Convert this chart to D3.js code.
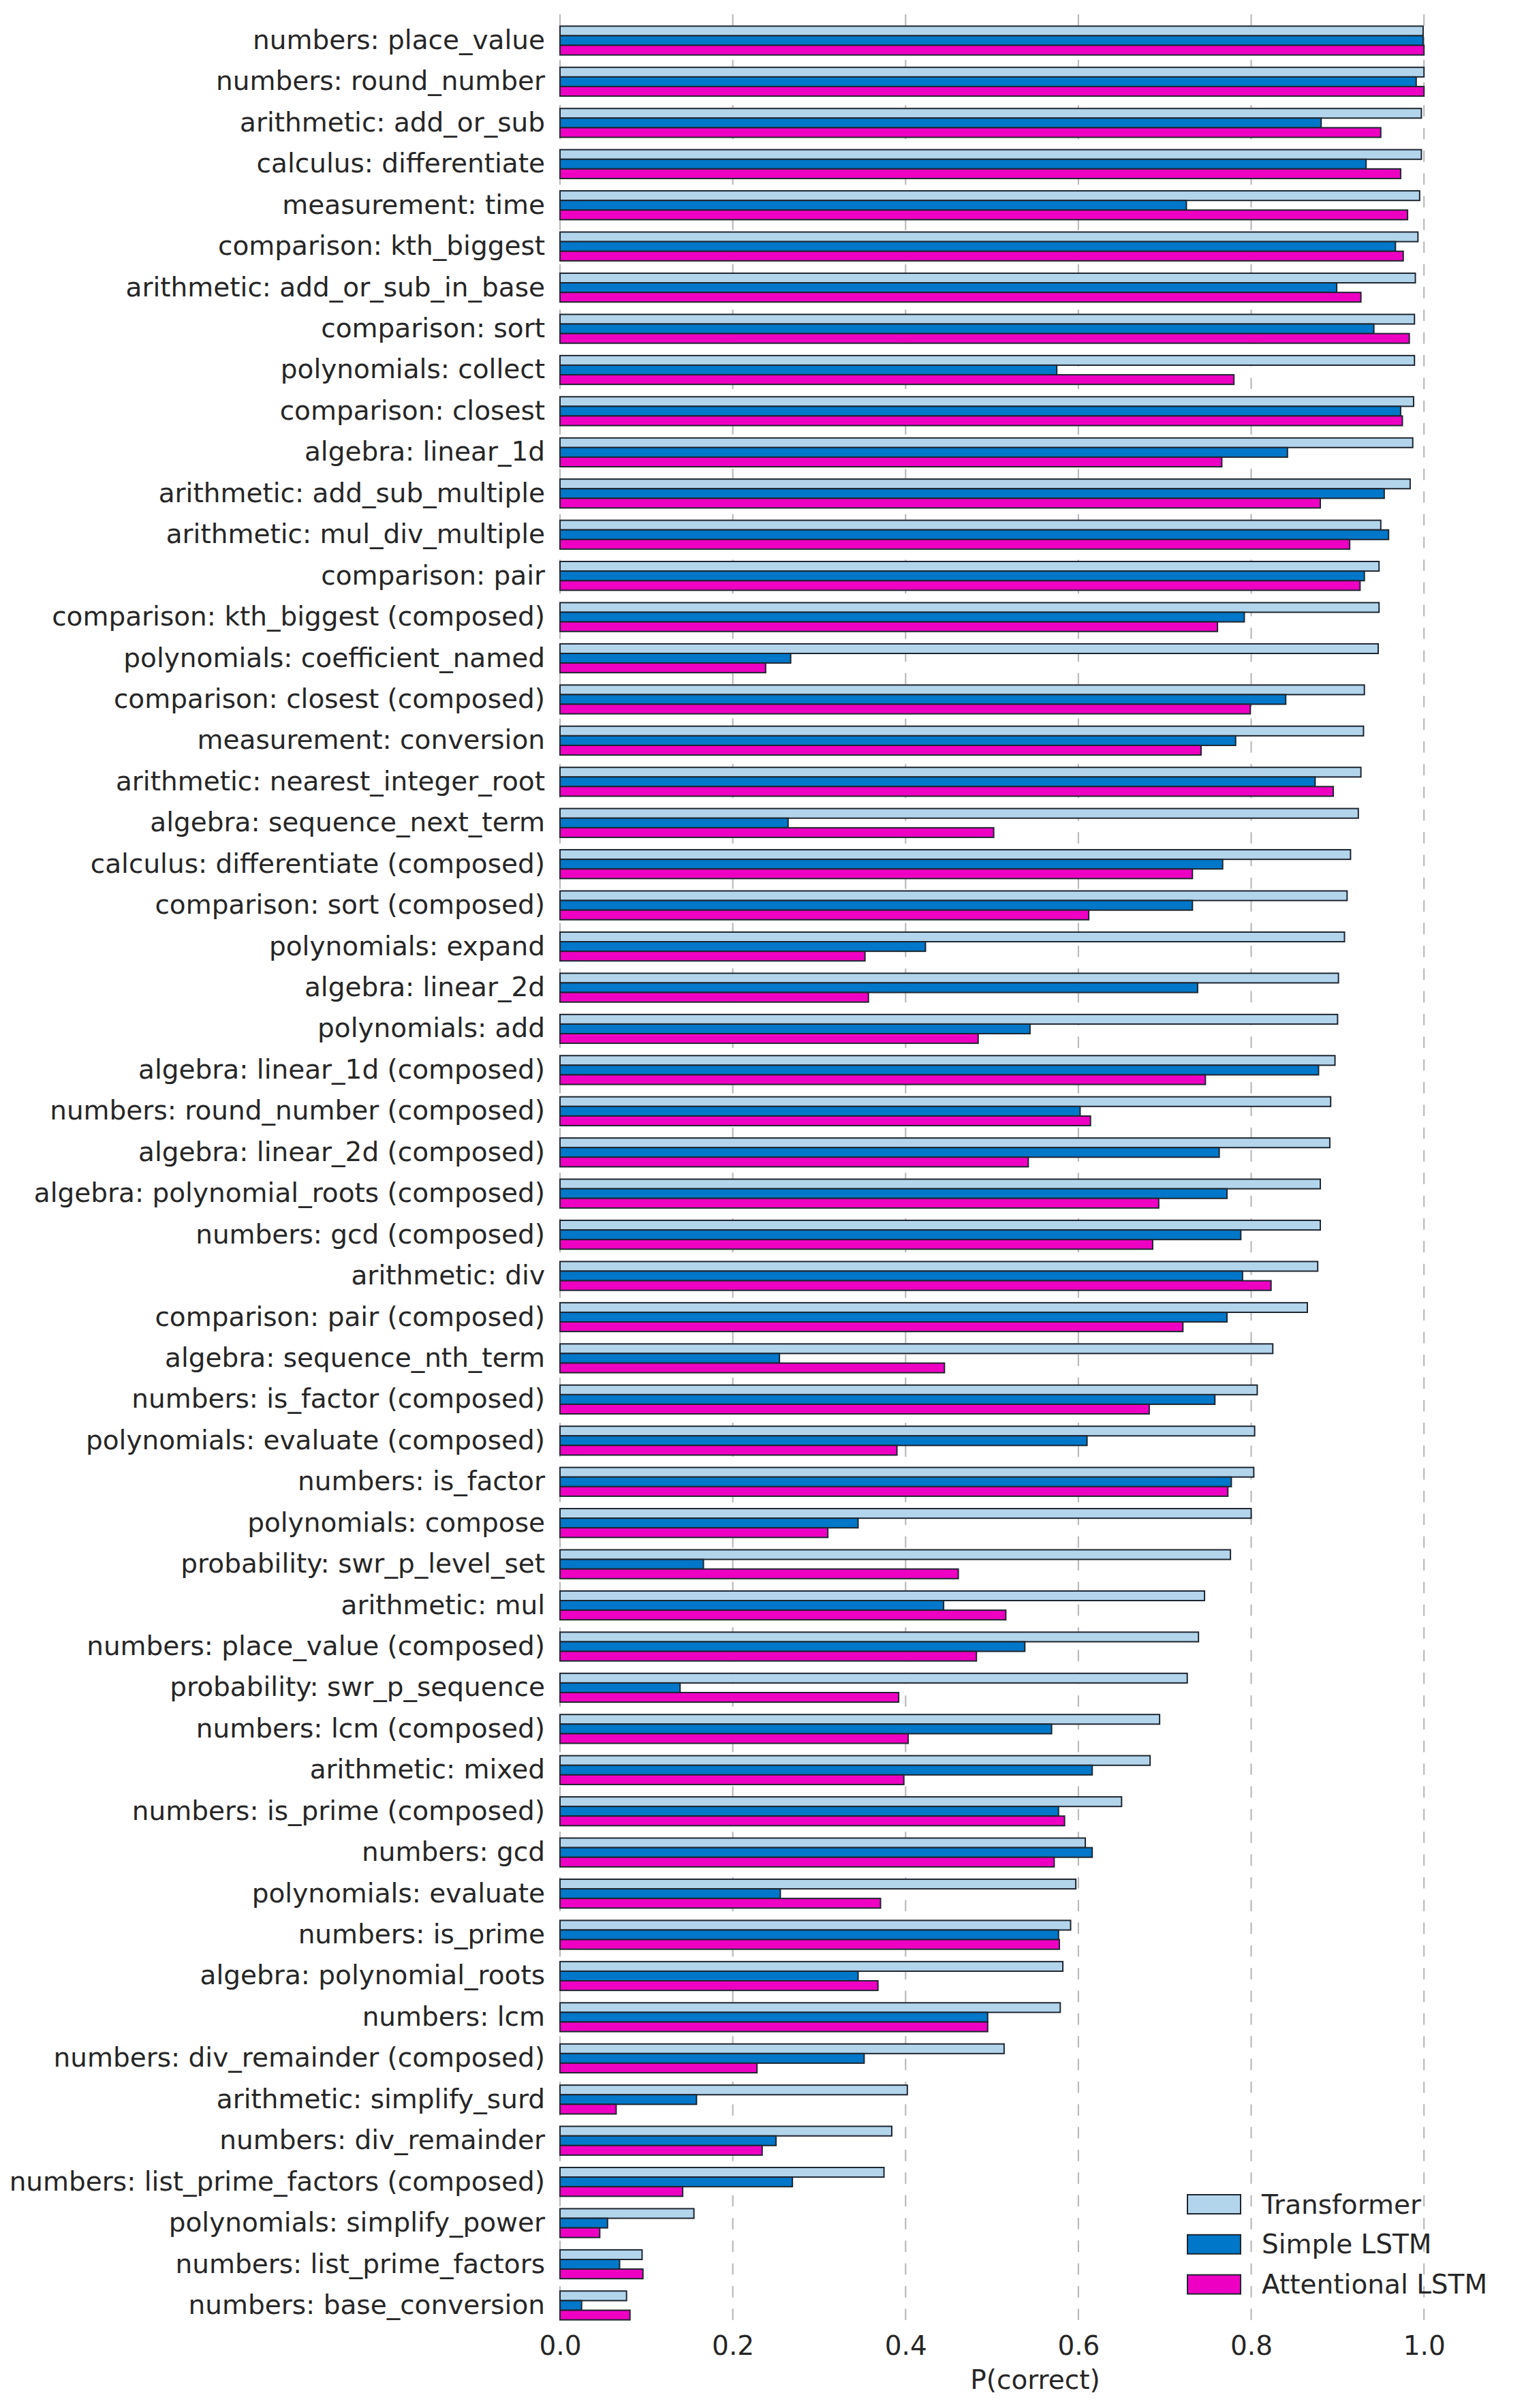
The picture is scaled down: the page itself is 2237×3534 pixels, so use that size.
<!DOCTYPE html>
<html>
<head>
<meta charset="utf-8">
<script src="https://cdn.jsdelivr.net/npm/d3@7"></script>
<style>
  body { margin: 0; background: #fff; }
  text { font-family: "DejaVu Sans", sans-serif; fill: #262626; }
</style>
</head>
<body>
<svg id="chart"></svg>
<script>
// Categories, top to bottom (sorted by Transformer accuracy)
const categories = [
  "numbers: place_value", "numbers: round_number", "arithmetic: add_or_sub",
  "calculus: differentiate", "measurement: time", "comparison: kth_biggest",
  "arithmetic: add_or_sub_in_base", "comparison: sort", "polynomials: collect",
  "comparison: closest", "algebra: linear_1d", "arithmetic: add_sub_multiple",
  "arithmetic: mul_div_multiple", "comparison: pair", "comparison: kth_biggest (composed)",
  "polynomials: coefficient_named", "comparison: closest (composed)", "measurement: conversion",
  "arithmetic: nearest_integer_root", "algebra: sequence_next_term", "calculus: differentiate (composed)",
  "comparison: sort (composed)", "polynomials: expand", "algebra: linear_2d",
  "polynomials: add", "algebra: linear_1d (composed)", "numbers: round_number (composed)",
  "algebra: linear_2d (composed)", "algebra: polynomial_roots (composed)", "numbers: gcd (composed)",
  "arithmetic: div", "comparison: pair (composed)", "algebra: sequence_nth_term",
  "numbers: is_factor (composed)", "polynomials: evaluate (composed)", "numbers: is_factor",
  "polynomials: compose", "probability: swr_p_level_set", "arithmetic: mul",
  "numbers: place_value (composed)", "probability: swr_p_sequence", "numbers: lcm (composed)",
  "arithmetic: mixed", "numbers: is_prime (composed)", "numbers: gcd",
  "polynomials: evaluate", "numbers: is_prime", "algebra: polynomial_roots",
  "numbers: lcm", "numbers: div_remainder (composed)", "arithmetic: simplify_surd",
  "numbers: div_remainder", "numbers: list_prime_factors (composed)", "polynomials: simplify_power",
  "numbers: list_prime_factors", "numbers: base_conversion"
];

const transformer = [
  0.999, 1.000, 0.997, 0.997, 0.995, 0.993, 0.990, 0.989, 0.989, 0.988,
  0.987, 0.984, 0.950, 0.948, 0.948, 0.947, 0.931, 0.930, 0.927, 0.924,
  0.915, 0.911, 0.908, 0.901, 0.900, 0.897, 0.892, 0.891, 0.880, 0.880,
  0.877, 0.865, 0.825, 0.807, 0.804, 0.803, 0.800, 0.776, 0.746, 0.739,
  0.726, 0.694, 0.683, 0.650, 0.608, 0.597, 0.591, 0.582, 0.579, 0.514,
  0.402, 0.384, 0.375, 0.155, 0.095, 0.077
];

const simpleLstm = [
  0.999, 0.991, 0.881, 0.933, 0.725, 0.967, 0.899, 0.942, 0.575, 0.973,
  0.842, 0.954, 0.959, 0.931, 0.792, 0.267, 0.840, 0.782, 0.874, 0.264,
  0.767, 0.732, 0.423, 0.738, 0.544, 0.878, 0.602, 0.763, 0.772, 0.788,
  0.790, 0.772, 0.254, 0.758, 0.610, 0.777, 0.345, 0.166, 0.444, 0.538,
  0.139, 0.569, 0.616, 0.577, 0.616, 0.255, 0.577, 0.345, 0.495, 0.352,
  0.158, 0.250, 0.269, 0.055, 0.069, 0.025
];

const attentionalLstm = [
  1.000, 1.000, 0.950, 0.973, 0.981, 0.976, 0.927, 0.983, 0.780, 0.975,
  0.766, 0.880, 0.914, 0.926, 0.761, 0.238, 0.799, 0.742, 0.895, 0.502,
  0.732, 0.612, 0.353, 0.357, 0.484, 0.747, 0.614, 0.542, 0.693, 0.686,
  0.823, 0.721, 0.445, 0.682, 0.390, 0.773, 0.310, 0.461, 0.516, 0.482,
  0.392, 0.403, 0.398, 0.584, 0.572, 0.371, 0.578, 0.368, 0.495, 0.228,
  0.065, 0.234, 0.142, 0.046, 0.096, 0.081
];

const seriesNames = ["Transformer", "Simple LSTM", "Attentional LSTM"];
const seriesColors = ["#b3d5ec", "#0077c8", "#ee00c2"];
const xTicks = [0.0, 0.2, 0.4, 0.6, 0.8, 1.0];

const width = 2237, height = 3534;
const plotLeft = 822, plotRight = 2217, plotTop = 21, plotBottom = 3405;
const step = 60.436, firstCenter = 59.5;
const fontSize = "39px";

const svg = d3.select("#chart").attr("width", width).attr("height", height);

const x = d3.scaleLinear().domain([0, 1.1]).range([plotLeft, plotRight]);

const y = d3.scaleBand()
  .domain(categories)
  .range([firstCenter - step / 2, firstCenter - step / 2 + step * categories.length])
  .padding(0);

const inner = d3.scaleBand()
  .domain(seriesNames)
  .range([step * 0.15, step * 0.85])
  .padding(0);

// dashed vertical grid
svg.append("g")
  .selectAll("line")
  .data(xTicks)
  .join("line")
  .attr("x1", d => x(d)).attr("x2", d => x(d))
  .attr("y1", plotTop).attr("y2", plotBottom)
  .attr("stroke", "#bababa")
  .attr("stroke-width", 2.2)
  .attr("stroke-dasharray", "16.67,16.67");

const rows = categories.map((c, i) => ({
  category: c,
  values: [transformer[i], simpleLstm[i], attentionalLstm[i]]
}));

const group = svg.append("g")
  .selectAll("g")
  .data(rows)
  .join("g")
  .attr("transform", d => "translate(0," + y(d.category) + ")");

group.selectAll("rect")
  .data(d => d.values.map((v, k) => ({ name: seriesNames[k], value: v, k: k })))
  .join("rect")
  .attr("x", x(0))
  .attr("y", d => inner(d.name))
  .attr("width", d => x(d.value) - x(0))
  .attr("height", inner.bandwidth())
  .attr("fill", d => seriesColors[d.k])
  .attr("stroke", "#1e2630")
  .attr("stroke-width", 2);

// y axis labels
const yAxis = svg.append("g")
  .attr("transform", "translate(" + plotLeft + ",0)")
  .call(d3.axisLeft(y).tickSize(0).tickPadding(22));
yAxis.select(".domain").remove();
yAxis.selectAll("text")
  .attr("font-size", fontSize)
  .attr("font-family", "DejaVu Sans")
  .attr("fill", "#262626");

// x axis
const xAxis = svg.append("g")
  .attr("transform", "translate(0," + plotBottom + ")")
  .call(d3.axisBottom(x).tickValues(xTicks).tickFormat(d3.format(".1f")).tickSize(0).tickPadding(23));
xAxis.select(".domain").remove();
xAxis.selectAll("text")
  .attr("font-size", fontSize)
  .attr("font-family", "DejaVu Sans")
  .attr("fill", "#262626");

svg.append("text")
  .attr("x", (plotLeft + plotRight) / 2)
  .attr("y", 3506)
  .attr("text-anchor", "middle")
  .attr("font-size", fontSize)
  .text("P(correct)");

// legend
const legend = svg.append("g")
  .selectAll("g")
  .data(seriesNames)
  .join("g")
  .attr("transform", (d, i) => "translate(1743," + (3221 + i * 58.8) + ")");

legend.append("rect")
  .attr("width", 78)
  .attr("height", 28)
  .attr("fill", (d, i) => seriesColors[i])
  .attr("stroke", "#1e2630")
  .attr("stroke-width", 2);

legend.append("text")
  .attr("x", 109)
  .attr("y", 14)
  .attr("dy", "0.35em")
  .attr("font-size", fontSize)
  .text(d => d);
</script>
</body>
</html>
